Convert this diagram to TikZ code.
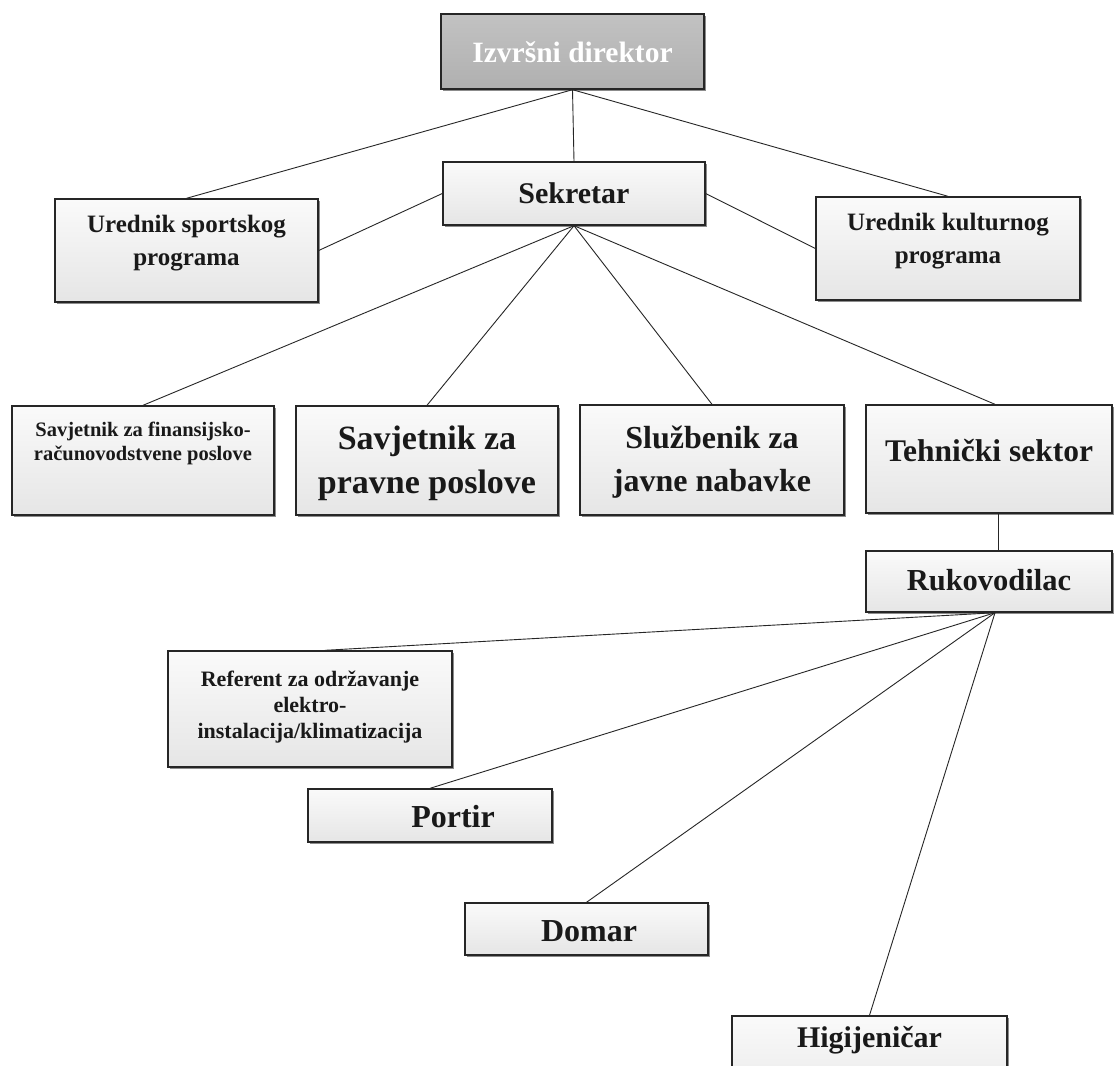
\documentclass[tikz,border=0pt]{standalone}
\usepackage{fontspec}
\setmainfont{Liberation Serif}
\usetikzlibrary{shadows}
\tikzset{
  box/.style={draw=black!85, line width=1.4pt, top color=gray!4, bottom color=gray!20,
    drop shadow={shadow xshift=1.8pt, shadow yshift=-1.8pt, fill=black, opacity=0.45},
    inner sep=0pt},
  topbox/.style={box, top color=gray!48, bottom color=gray!62},
  conn/.style={draw=black!85, line width=0.9pt},
  lbl/.style={align=center, inner sep=0pt, text=black!90},
  fs/.style 2 args={font=\bfseries\fontsize{#1}{#2}\selectfont}
}
\begin{document}
\begin{tikzpicture}[x=1pt,y=-1pt]
\clip (0,0) rectangle (1120,1066);
\fill[white] (0,0) rectangle (1120,1066);

% boxes
\node[topbox, minimum width=263pt, minimum height=75pt] (izv) at (572.5,51.5) {};
\node[box, minimum width=262pt, minimum height=63pt] (sek) at (574,193.5) {};
\node[box, minimum width=263pt, minimum height=103pt] (spo) at (186.5,250.5) {};
\node[box, minimum width=264pt, minimum height=103pt] (kul) at (948,248.5) {};
\node[box, minimum width=262pt, minimum height=109pt] (fin) at (143,460.5) {};
\node[box, minimum width=262pt, minimum height=109pt] (pra) at (427,460.5) {};
\node[box, minimum width=264pt, minimum height=110pt] (slu) at (712,460) {};
\node[box, minimum width=246pt, minimum height=108pt] (teh) at (989,459) {};
\node[box, minimum width=246pt, minimum height=61pt] (ruk) at (989,581.5) {};
\node[box, minimum width=284pt, minimum height=116pt] (ref) at (310,709) {};
\node[box, minimum width=244pt, minimum height=53pt] (por) at (430,815.5) {};
\node[box, minimum width=243pt, minimum height=52pt] (dom) at (586.5,929) {};
\node[box, minimum width=275pt, minimum height=104pt] (hig) at (869.5,1068) {};

% connectors
\draw[conn] (izv.south) -- (spo.north);
\draw[conn] (izv.south) -- (sek.north);
\draw[conn] (izv.south) -- (kul.north);
\draw[conn] (sek.west) -- (spo.east);
\draw[conn] (sek.east) -- (kul.west);
\draw[conn] (sek.south) -- (fin.north);
\draw[conn] (sek.south) -- (pra.north);
\draw[conn] (sek.south) -- (slu.north);
\draw[conn] (sek.south) -- ([xshift=6pt]teh.north);
\draw[conn] ([xshift=9pt]teh.south) -- ([xshift=9pt]ruk.north);
\coordinate (rk) at ([xshift=6pt]ruk.south);
\draw[conn] (rk) -- ([xshift=15pt]ref.north);
\draw[conn] (rk) -- (por.north);
\draw[conn] (rk) -- (dom.north);
\draw[conn] (rk) -- (hig.north);

% labels
\node[lbl, fs={29.5}{33}, text=white] (t-izv) at (572.5,52) {Izvršni direktor};
\node[lbl, fs={30}{34}] (t-sek) at (574,193) {Sekretar};
\node[lbl, fs={25}{33}] (t-spo) at (186.5,243) {Urednik sportskog\\programa};
\node[lbl, fs={25}{33}] (t-kul) at (948,241) {Urednik kulturnog\\programa};
\node[lbl, fs={20.5}{24}] (t-fin) at (143,443) {Savjetnik za finansijsko-\\računovodstvene poslove};
\node[lbl, fs={34}{44}] (t-pra) at (427,463) {Savjetnik za\\pravne poslove};
\node[lbl, fs={32}{43}] (t-slu) at (712,462) {Službenik za\\javne nabavke};
\node[lbl, fs={31.5}{35}] (t-teh) at (989,451) {Tehnički sektor};
\node[lbl, fs={30.5}{34}] (t-ruk) at (989,580) {Rukovodilac};
\node[lbl, fs={22}{26}] (t-ref) at (310,707) {Referent za održavanje\\elektro-\\instalacija/klimatizacija};
\node[lbl, fs={32}{36}] (t-por) at (453,817) {Portir};
\node[lbl, fs={32}{36}] (t-dom) at (589,931) {Domar};
\node[lbl, fs={30}{34}] (t-hig) at (869.5,1040) {Higijeničar};
\end{tikzpicture}
\end{document}
